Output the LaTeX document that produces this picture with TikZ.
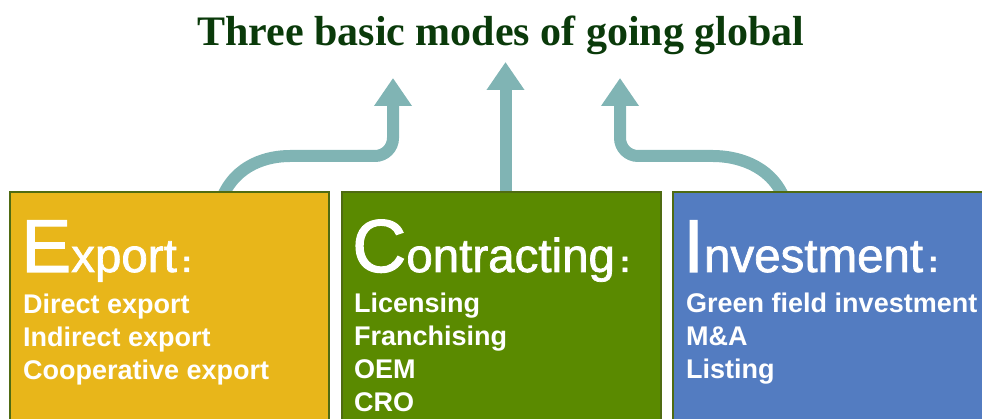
\documentclass[tikz,border=0pt]{standalone}
\usepackage{fontspec}
\setmainfont{Liberation Sans}
\newfontfamily\titlefont{Liberation Serif}
\newfontfamily\headfont{Liberation Sans}[FakeBold=1.5]
\usetikzlibrary{arrows.meta,positioning,calc}

\definecolor{titlegreen}{RGB}{10,58,10}
\definecolor{flowteal}{RGB}{128,180,180}
\definecolor{edgegreen}{RGB}{79,107,18}
\definecolor{exportfill}{RGB}{232,182,26}
\definecolor{contractfill}{RGB}{90,138,0}
\definecolor{investfill}{RGB}{83,124,193}

\newcommand{\modehead}[2]{{\fontsize{75}{75}\selectfont #1}{\fontsize{47.5}{48}\selectfont #2}{\fontsize{30}{30}\selectfont\bfseries\,:}}

\pgfdeclarelayer{back}
\pgfsetlayers{back,main}

\tikzset{
  modebox/.style={draw=edgegreen, line width=2pt, outer sep=0pt, inner sep=0pt, minimum width=319pt, minimum height=260pt},
  modehead/.style={text=white, inner sep=0pt, anchor=base west, font=\headfont},
  modelist/.style={text=white, inner sep=0pt, anchor=base west, align=left, font=\bfseries\fontsize{27}{33}\selectfont},
  flow/.style={draw=flowteal, line width=12pt, -{Triangle[width=36pt,length=28pt]}},
}

\begin{document}
\begin{tikzpicture}[x=1pt,y=-1pt]
\useasboundingbox (0,0) rectangle (982,419);
\clip (0,0) rectangle (982,419);

%title
\node[font=\titlefont\bfseries\fontsize{42}{42}\selectfont, text=titlegreen, anchor=base] (title) at (501,46) {Three basic modes of going global};

%boxes
\node[modebox, fill=exportfill, anchor=north west] (exp) at (10,192) {};
\node[modebox, fill=contractfill, right=13pt of exp] (con) {};
\node[modebox, fill=investfill, right=12pt of con] (inv) {};

%export (list anchored on its last line)
\node[modehead] (expHead) at ($(exp.north west)+(11,80)$) {\modehead{E}{xport}};
\node[modelist] (expList) at ($(exp.north west)+(13,187)$) {Direct export\\Indirect export\\Cooperative export};

%contracting
\node[modehead] (conHead) at ($(con.north west)+(10,80)$) {\modehead{C}{ontracting}};
\node[modelist] (conList) at ($(con.north west)+(12,219)$) {Licensing\\Franchising\\OEM\\CRO};

%investment
\node[modehead] (invHead) at ($(inv.north west)+(10,80)$) {\modehead{I}{nvestment}};
\node[modelist] (invList) at ($(inv.north west)+(13,186)$) {Green field investment\\M\&A\\Listing};

%arrows
\coordinate (expTip) at (393,78);
\coordinate (conTip) at ($(con.north)+(4,-130)$);
\coordinate (invTip) at (620,78);
\begin{pgfonlayer}{back}
\draw[flow, rounded corners=18pt] ($(exp.north west)+(212,6)$) .. controls +(14,-34) and (268,156) .. (308,156) -- (393,156) -- (expTip);
\draw[flow] ($(con.north)+(4,6)$) -- (conTip);
\draw[flow, rounded corners=18pt] ($(inv.north west)+(111,6)$) .. controls +(-14,-34) and (735,156) .. (695,156) -- (620,156) -- (invTip);
\end{pgfonlayer}
\end{tikzpicture}
\end{document}
